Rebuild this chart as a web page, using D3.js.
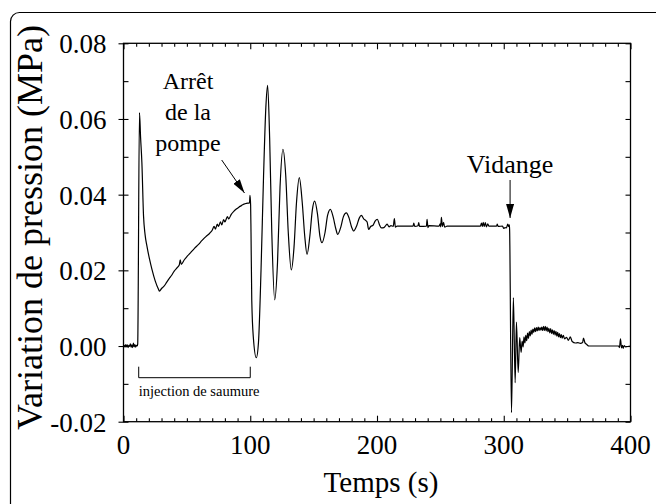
<!DOCTYPE html>
<html>
<head>
<meta charset="utf-8">
<script src="https://cdn.jsdelivr.net/npm/d3@7"></script>
<style>
  body { margin: 0; background: #fff; }
  svg { display: block; }
  text { font-family: "Liberation Serif", "DejaVu Serif", serif; fill: #000; }
</style>
</head>
<body>
<svg width="656" height="504"></svg>
<script>
// pressure variation (MPa) vs time (s)
const avantInjection = [[0,0],[0.6,0.0002],[1.2,-0.0003],[1.8,0.0004],[2.4,-0.0002],[3,0.0003],[3.6,-0.0004],[4.2,0.0002],[4.8,-0.0001],[5.4,0.0006],[6,-0.0003],[6.6,0.0003],[7.2,-0.0004],[7.8,0.0008],[8.4,-0.0002],[9,0.0004],[9.6,-0.0003],[10.2,0.0002],[10.8,0]];

const injection = [[11.2,0.0005],[12.6,0.0617],[13.5,0.055],[14.5,0.0485],[15.8,0.0344],[17,0.0295],[18.5,0.0264],[20.5,0.023],[22.4,0.0203],[25,0.0172],[27.6,0.015],[28.4,0.0145],[30,0.0152],[32,0.0158],[34,0.0168],[36,0.0178],[38,0.0187],[40,0.0198],[42,0.0206],[44,0.0214],[44.8,0.0228],[45.5,0.0216],[48,0.0228],[50,0.0236],[53,0.0247],[56,0.0258],[59,0.0268],[62,0.0279],[65,0.0289],[68,0.0298],[70,0.0306],[71.5,0.0316],[72.5,0.0309],[74,0.0322],[75,0.0316],[76.5,0.0328],[77.5,0.032],[79,0.0334],[80,0.0328],[82,0.0342],[83,0.0336],[85,0.0348],[87,0.0356],[89,0.0362],[91,0.0367],[93,0.0371],[95,0.0375],[97,0.0377],[99.4,0.0378],[99.8,0.0398],[100.3,0.0372]];

const oscillations = [[100.6,0.03],[101.2,0.012],[102.5,0.002],[104.8,-0.0031],[106.5,0.001],[108.5,0.02],[110.5,0.045],[112.3,0.063],[113.7,0.0689],[115.3,0.055],[117,0.03],[119.3,0.0122],[121.5,0.022],[123.5,0.042],[125.8,0.052],[128,0.045],[130,0.03],[132.4,0.0201],[134.5,0.026],[136.5,0.038],[138.7,0.0445],[141,0.038],[143,0.029],[144.8,0.0242],[147,0.029],[149,0.036],[150.8,0.0383],[153,0.035],[155,0.029],[156.6,0.0273],[159,0.03],[161,0.0345],[163.2,0.0361],[165.5,0.034],[167.5,0.031],[169,0.0295],[171.5,0.0315],[173.5,0.0342],[175.8,0.0352],[178,0.0338],[180,0.0314],[181.6,0.0304],[184,0.0318],[186,0.0338],[187.7,0.0345],[189.5,0.0336],[191,0.0332],[192.2,0.0328],[193.4,0.0308],[195,0.0316],[196.9,0.0319],[198.5,0.033],[200.3,0.0335]];

const palier = [[202,0.032],[203.5,0.0312],[205.4,0.0313],[207,0.0319],[208,0.0322],[209.5,0.0315],[211,0.0318],[212.8,0.0316],[213.7,0.0337],[214.5,0.0314],[215.8,0.0317],[228.5,0.0317],[229,0.0325],[229.8,0.0316],[232.4,0.0318],[232.9,0.0326],[233.6,0.0316],[239,0.0317],[239.5,0.0335],[240.2,0.0313],[241,0.0318],[249,0.0317],[249.8,0.0323],[250.3,0.0315],[250.8,0.034],[251.6,0.0316],[252.5,0.0327],[253.4,0.0314],[255.3,0.0317],[281.6,0.0317],[282.4,0.0325],[283.1,0.0316],[283.8,0.0327],[284.6,0.0316],[285.5,0.0326],[286.3,0.0315],[287.4,0.0323],[288.2,0.0317],[294.3,0.0317],[294.9,0.0322],[295.6,0.0316],[299,0.0317],[300,0.0311],[301,0.0313],[302,0.0312],[303.2,0.0322],[303.8,0.0316],[304.4,0.032]];

const vidange = [[304.6,0.031],[306.1,-0.0176],[307.6,0.0128],[309,-0.0097],[310,0.0063],[311.4,-0.007],[312.6,0.0022],[313.7,-0.0017],[314.5,0.0013],[315.3,-0.0002],[316,0.0024],[316.7,0.0008],[317.4,0.0028],[318.1,0.0014],[318.8,0.0034],[319.5,0.002],[320.2,0.0038],[320.9,0.0027],[321.6,0.0042],[322.3,0.0031],[323,0.0045],[323.7,0.0036],[324.4,0.0048],[325.1,0.0038],[325.8,0.0049],[326.5,0.004],[327.2,0.005],[327.9,0.0041],[328.6,0.0049],[329.3,0.0042],[330,0.005],[330.7,0.0041],[331.4,0.0052],[332.1,0.0041],[332.8,0.0052],[333.5,0.004],[334.2,0.005],[334.9,0.0038],[335.6,0.0047],[336.3,0.0035],[337,0.0046],[337.7,0.0033],[338.4,0.0043],[339.1,0.0031],[339.8,0.0041],[340.5,0.0029],[341.2,0.0039],[341.9,0.0026],[342.6,0.0036],[343.3,0.0024],[344,0.0033],[344.7,0.0022],[345.4,0.003],[346.1,0.0021],[347,0.0028],[348,0.0019],[349.5,0.0023],[351,0.0015],[352.5,0.0024],[354,0.0012],[356.5,0.0008],[358.5,0.0009],[360.5,0.0007],[362.2,0.0009],[362.9,0.0021],[364,0.0009],[365.5,0.0004],[367.2,0],[390.6,0],[391.3,-0.0004],[392.1,0.0019],[392.9,-0.0005],[393.6,0.0002],[394.3,-0.0006],[395,0.0001],[396,-0.0002],[400,0]];

const xMajor = [0, 100, 200, 300, 400];
const yMajor = [-0.02, 0.00, 0.02, 0.04, 0.06, 0.08];
const arretLines = ["Arrêt", "de la", "pompe"];

const svg = d3.select("svg");
const plotLeft = 123.5, plotRight = 630.5, plotTop = 43.3, plotBottom = 421.7;

const x = d3.scaleLinear().domain([0, 400]).range([plotLeft, plotRight]);
const y = d3.scaleLinear().domain([-0.02, 0.08]).range([plotBottom, plotTop]);

// frame round the whole figure
svg.append("rect")
    .attr("x", 10.5).attr("y", 12.5)
    .attr("width", 680).attr("height", 540)
    .attr("rx", 9)
    .attr("fill", "none").attr("stroke", "#000").attr("stroke-width", 1.2);

const xMinor = d3.range(0, 401, 10);
const yMinor = d3.range(-0.02, 0.0801, 0.01);

function tickAxis(axis, transform, major, minor, inner) {
    const g = svg.append("g").attr("transform", transform);
    g.append("g").call(axis(minor.filter(d => !major.some(m => Math.abs(m - d) < 1e-9))).tickSize(-inner[1]).tickFormat(""));
    g.append("g").attr("class", "major").call(axis(major).tickSize(-inner[0]).tickFormat(""));
    g.selectAll(".domain").remove();
    g.selectAll("line").attr("stroke", "#000").attr("stroke-width", 1.1);
    return g;
}

// ticks on all four sides, pointing inward
tickAxis(v => d3.axisBottom(x).tickValues(v), `translate(0,${plotBottom})`, xMajor, xMinor, [6, 3.5]);
tickAxis(v => d3.axisTop(x).tickValues(v), `translate(0,${plotTop})`, xMajor, xMinor, [6, 3.5]);
const ly = tickAxis(v => d3.axisLeft(y).tickValues(v), `translate(${plotLeft},0)`, yMajor, yMinor, [5, 5]);
tickAxis(v => d3.axisRight(y).tickValues(v), `translate(${plotRight},0)`, yMajor, yMinor, [5, 5]);
// left major ticks cross the axis
ly.select(".major").selectAll("line").attr("x1", -5).attr("x2", 5);

svg.append("rect")
    .attr("x", plotLeft).attr("y", plotTop)
    .attr("width", plotRight - plotLeft).attr("height", plotBottom - plotTop)
    .attr("fill", "none").attr("stroke", "#000").attr("stroke-width", 1.3);

// tick labels
svg.append("g").selectAll("text").data(xMajor).join("text")
    .attr("x", d => x(d)).attr("y", plotBottom + 32)
    .attr("text-anchor", "middle").attr("font-size", 27)
    .text(d => d);

svg.append("g").selectAll("text").data(yMajor).join("text")
    .attr("x", plotLeft - 17).attr("y", d => y(d) + 10)
    .attr("text-anchor", "end").attr("font-size", 27)
    .text(d => d3.format(".2f")(d).replace("−", "-"));

svg.append("text")
    .attr("x", 381).attr("y", 492)
    .attr("text-anchor", "middle").attr("font-size", 29)
    .text("Temps (s)");

svg.append("text")
    .attr("transform", `translate(42,${(23 + 432) / 2}) rotate(-90)`)
    .attr("text-anchor", "middle").attr("font-size", 36)
    .text("Variation de pression (MPa)");

// the signal
const serie = avantInjection.concat(injection, oscillations, palier, vidange);
const line = d3.line()
    .x(d => x(d[0])).y(d => y(d[1]))
    .curve(d3.curveMonotoneX);

svg.append("path")
    .datum(serie)
    .attr("d", line)
    .attr("fill", "none").attr("stroke", "#000")
    .attr("stroke-width", 1.2).attr("stroke-linejoin", "round");

// annotations
svg.append("defs").append("marker")
    .attr("id", "tete")
    .attr("viewBox", "0 0 14 8")
    .attr("refX", 14).attr("refY", 4)
    .attr("markerWidth", 14).attr("markerHeight", 8)
    .attr("markerUnits", "userSpaceOnUse")
    .attr("orient", "auto")
    .append("path").attr("d", "M0,0 L14,4 L0,8 Z").attr("fill", "#000");

svg.append("g").selectAll("text").data(arretLines).join("text")
    .attr("x", 188).attr("y", (d, i) => 89 + i * 31)
    .attr("text-anchor", "middle").attr("font-size", 24)
    .text(d => d);

svg.append("line")
    .attr("x1", 221.7).attr("y1", 160).attr("x2", 244.5).attr("y2", 193)
    .attr("stroke", "#000").attr("stroke-width", 1)
    .attr("marker-end", "url(#tete)");

svg.append("text")
    .attr("x", 510).attr("y", 173)
    .attr("text-anchor", "middle").attr("font-size", 26)
    .text("Vidange");

svg.append("line")
    .attr("x1", x(305)).attr("y1", 180).attr("x2", x(305)).attr("y2", 218)
    .attr("stroke", "#000").attr("stroke-width", 1)
    .attr("marker-end", "url(#tete)");

// injection bracket
const yb = 377.7;
svg.append("path")
    .attr("d", `M${x(12)},${yb - 11}V${yb}H${x(100)}V${yb - 11}`)
    .attr("fill", "none").attr("stroke", "#000").attr("stroke-width", 1);

svg.append("text")
    .attr("x", x(12)).attr("y", yb + 18)
    .attr("font-size", 14.5)
    .text("injection de saumure");
</script>
</body>
</html>
